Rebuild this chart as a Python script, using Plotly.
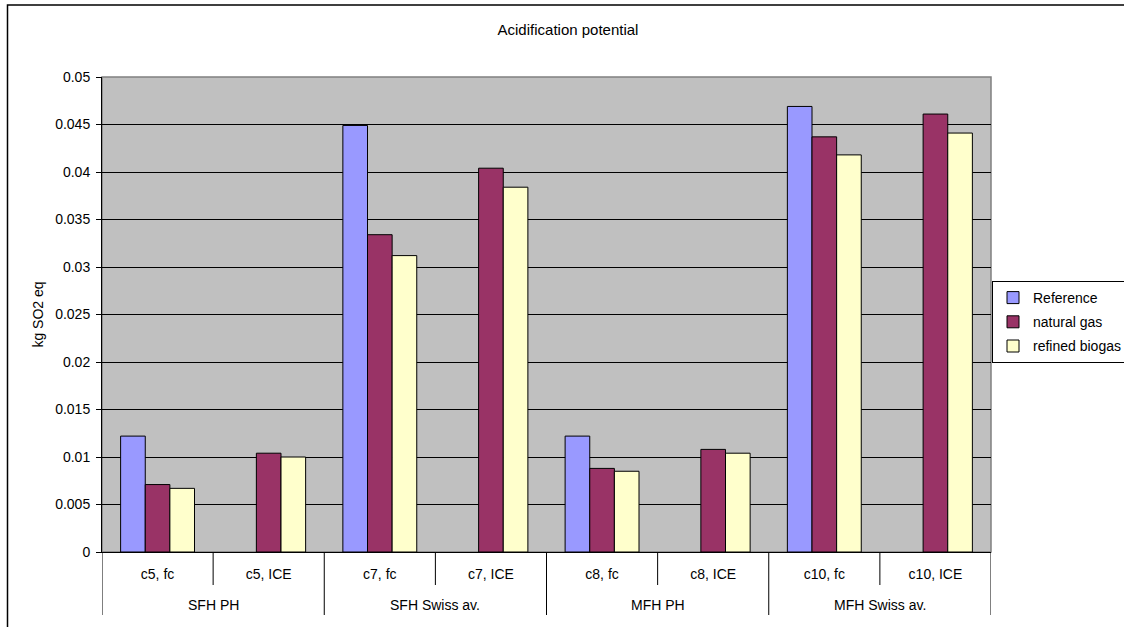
import plotly.graph_objects as go

# Acidification potential per building / heating case
groups = ["SFH PH", "SFH Swiss av.", "MFH PH", "MFH Swiss av."]
cases = ["c5, fc", "c5, ICE", "c7, fc", "c7, ICE",
         "c8, fc", "c8, ICE", "c10, fc", "c10, ICE"]
reference = [0.0122, None, 0.0449, None, 0.0122, None, 0.0469, None]
natural_gas = [0.0071, 0.0104, 0.0334, 0.0404, 0.0088, 0.0108, 0.0437, 0.0461]
refined_biogas = [0.0067, 0.0100, 0.0312, 0.0384, 0.0085, 0.0104, 0.0418, 0.0441]
y_ticks = [0, 0.005, 0.01, 0.015, 0.02, 0.025, 0.03, 0.035, 0.04, 0.045, 0.05]

FONT = "Liberation Sans, Arial, sans-serif"
W, H = 1124, 627
L, R, T, B = 102, 133, 77, 75
PW, PH = W - L - R, H - T - B


def px_x(px):
    return (px - L) / PW


def px_y(py):
    return (H - B - py) / PH


series = [
    ("Reference", reference, "#9999FF"),
    ("natural gas", natural_gas, "#993366"),
    ("refined biogas", refined_biogas, "#FFFFCC"),
]

fig = go.Figure()
for name, vals, color in series:
    fig.add_trace(go.Bar(
        x=cases, y=vals, name=name, legendgroup=name,
        marker=dict(color=color, line=dict(color="black", width=1)),
    ))

shapes = []
# plot area frame
shapes.append(dict(type="rect", xref="paper", yref="paper", x0=0, x1=1, y0=0, y1=1,
                   line=dict(color="#808080", width=1.5), layer="below"))
# category dividers below the axis: short between cases, long between groups
for i in range(len(cases) + 1):
    bottom = 615 if i % 2 == 0 else 585
    shapes.append(dict(type="line", xref="x", yref="paper",
                       x0=i - 0.5, x1=i - 0.5, y0=0, y1=px_y(bottom),
                       line=dict(color="black", width=1)))
# outer chart border
shapes.append(dict(type="rect", xref="paper", yref="paper",
                   x0=px_x(7.5), x1=px_x(1135), y0=px_y(640), y1=px_y(5),
                   line=dict(color="black", width=1.5)))

annotations = []
for g, name in enumerate(groups):
    annotations.append(dict(x=2 * g + 0.5, xref="x", y=px_y(605), yref="paper",
                            text=name, showarrow=False, yanchor="middle",
                            font=dict(family=FONT, size=14, color="black")))

fig.update_layout(
    width=W, height=H,
    margin=dict(l=L, r=R, t=T, b=B, pad=0, autoexpand=False),
    paper_bgcolor="white",
    plot_bgcolor="#C0C0C0",
    font=dict(family=FONT, size=14, color="black"),
    title=dict(text="Acidification potential", x=568 / W,
               xanchor="center", y=1 - 30 / H, yanchor="middle",
               font=dict(family=FONT, size=15, color="black")),
    barmode="group",
    bargap=0.335,
    bargroupgap=0,
    showlegend=True,
    legend=dict(x=px_x(992), xanchor="left", y=px_y(281), yanchor="top",
                bgcolor="white", bordercolor="black", borderwidth=1,
                font=dict(family=FONT, size=14, color="black"),
                traceorder="grouped", tracegroupgap=3, itemwidth=30),
    shapes=shapes,
    annotations=annotations,
)

fig.update_xaxes(
    type="category", showgrid=False, showline=True, linecolor="black", linewidth=1,
    ticks="", ticklabelstandoff=9, tickfont=dict(family=FONT, size=14),
    range=[-0.5, len(cases) - 0.5], zeroline=False,
)
fig.update_yaxes(
    range=[0, 0.05], tickvals=y_ticks, ticktext=[f"{v:g}" for v in y_ticks],
    showgrid=True, gridcolor="black", gridwidth=1,
    showline=True, linecolor="black", linewidth=1,
    ticks="outside", ticklen=5, tickcolor="black", ticklabelstandoff=3,
    tickfont=dict(family=FONT, size=14), zeroline=False,
    title=dict(text="kg SO2 eq", standoff=8, font=dict(family=FONT, size=14)),
)

fig.write_html("out.html")
